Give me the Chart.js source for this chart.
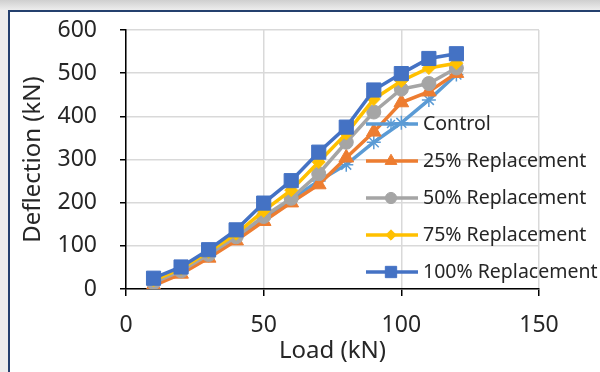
<!DOCTYPE html>
<html>
<head>
<meta charset="utf-8">
<script src="https://cdn.jsdelivr.net/npm/chart.js@4.4.0/dist/chart.umd.min.js"></script>
<style>
  html, body { margin: 0; padding: 0; }
  body {
    width: 600px; height: 372px; overflow: hidden; position: relative;
    background: linear-gradient(to bottom, #cfcfcf 0px, #ededed 10px, #ededed 100%);
  }
  #frame {
    position: absolute; left: 8px; top: 10px; width: 700px; height: 500px;
    background: #fff; border: 2px solid #24406e;
  }
  #chart { position: absolute; left: 0; top: 0; }
</style>
</head>
<body>
<div id="frame"></div>
<canvas id="chart" width="600" height="372"></canvas>
<script>
// data
const loads = [10, 20, 30, 40, 50, 60, 70, 80, 90, 100, 110, 120];
const control = [13, 42, 78, 118, 163, 208, 250, 288, 340, 385, 438, 497];
const rep25 = [8, 35, 72, 112, 157, 200, 242, 304, 364, 432, 457, 500];
const rep50 = [15, 42, 80, 121, 168, 210, 267, 340, 410, 463, 476, 512];
const rep75 = [20, 47, 86, 128, 181, 229, 294, 360, 440, 482, 512, 523];
const rep100 = [25, 51, 91, 137, 199, 251, 317, 375, 461, 499, 534, 545];

const seriesNames = ['Control', '25% Replacement', '50% Replacement', '75% Replacement', '100% Replacement'];
const xTicks = [0, 50, 100, 150];
const yTicks = [0, 100, 200, 300, 400, 500, 600];

const FONT = "'Noto Sans', 'Open Sans', sans-serif";

function pts(arr) {
  return arr.map((v, i) => ({ x: loads[i], y: v }));
}

// style for each series (Excel office palette)
const styles = [
  { color: '#5B9BD5', pointStyle: 'star', radius: 7, borderWidth: 1.5 },
  { color: '#ED7D31', pointStyle: 'triangle', radius: 8.5, borderWidth: 1 },
  { color: '#A5A5A5', pointStyle: 'circle', radius: 7, borderWidth: 1 },
  { color: '#FFC000', pointStyle: 'rectRot', radius: 6.5, borderWidth: 1 },
  { color: '#4472C4', pointStyle: 'rect', radius: 10, borderWidth: 1 }
];

const allSeries = [control, rep25, rep50, rep75, rep100];

const datasets = allSeries.map((arr, i) => ({
  label: seriesNames[i],
  data: pts(arr),
  borderColor: styles[i].color,
  backgroundColor: styles[i].color,
  pointBackgroundColor: styles[i].color,
  pointBorderColor: styles[i].color,
  pointStyle: styles[i].pointStyle,
  pointRadius: styles[i].radius,
  pointBorderWidth: styles[i].borderWidth,
  borderWidth: 3.5,
  tension: 0,
  order: 5 - i   // later series drawn on top, like Excel
}));

// legend drawn on top of the plot, Excel style
const legendPlugin = {
  id: 'excelLegend',
  afterDraw(chart) {
    const ctx = chart.ctx;
    const x0 = 366, x1 = 418, mx = 391, tx = 423;
    const ys = [124, 161, 198, 235, 272];
    ctx.save();
    styles.forEach((s, i) => {
      const y = ys[i];
      ctx.strokeStyle = s.color;
      ctx.lineWidth = 3.5;
      ctx.beginPath();
      ctx.moveTo(x0, y);
      ctx.lineTo(x1, y);
      ctx.stroke();
      ctx.fillStyle = s.color;
      ctx.strokeStyle = s.color;
      ctx.lineWidth = s.borderWidth;
      Chart.helpers.drawPoint(ctx, {
        pointStyle: s.pointStyle, radius: s.radius * 0.8, rotation: 0, borderWidth: s.borderWidth
      }, mx, y);
      ctx.fillStyle = '#262626';
      ctx.font = '19.5px ' + FONT;
      ctx.textBaseline = 'middle';
      ctx.textAlign = 'left';
      ctx.fillText(seriesNames[i], tx, y);
    });
    ctx.restore();
  }
};

const ctx = document.getElementById('chart').getContext('2d');
const myChart = new Chart(ctx, {
  type: 'line',
  data: { datasets: datasets },
  options: {
    responsive: false,
    animation: false,
    devicePixelRatio: 1,
    layout: { padding: { left: 0, right: 61, top: 30, bottom: 0 } },
    plugins: {
      legend: { display: false },
      tooltip: { enabled: false }
    },
    scales: {
      x: {
        type: 'linear',
        min: 0, max: 150,
        afterBuildTicks: (s) => { s.ticks = xTicks.map(v => ({ value: v })); },
        afterFit: (s) => { s.height = 83; },
        grid: { color: '#d9d9d9', lineWidth: 1.5, tickColor: '#000', tickLength: 7, drawTicks: true },
        border: { color: '#000', width: 1.5 },
        ticks: { color: '#262626', padding: 16, font: { family: FONT, size: 23 } },
        title: {
          display: true, text: 'Load (kN)', color: '#262626',
          font: { family: FONT, size: 24 }, padding: { top: 0, bottom: 6 }
        }
      },
      y: {
        type: 'linear',
        min: 0, max: 600,
        afterBuildTicks: (s) => { s.ticks = yTicks.map(v => ({ value: v })); },
        afterFit: (s) => {
          s.width = 126;
          // tick padding would otherwise push the plot top down
          s.paddingTop = 5;
          s.paddingBottom = 5;
        },
        grid: { color: '#d9d9d9', lineWidth: 1.5, tickColor: '#000', tickLength: 6, drawTicks: true },
        border: { color: '#000', width: 1.5 },
        ticks: { color: '#262626', padding: 23, font: { family: FONT, size: 23 } },
        title: {
          display: true, text: 'Deflection (kN)', color: '#262626',
          font: { family: FONT, size: 24 }, padding: { top: 19, bottom: 0 }
        }
      }
    }
  },
  plugins: [legendPlugin]
});
</script>
</body>
</html>
